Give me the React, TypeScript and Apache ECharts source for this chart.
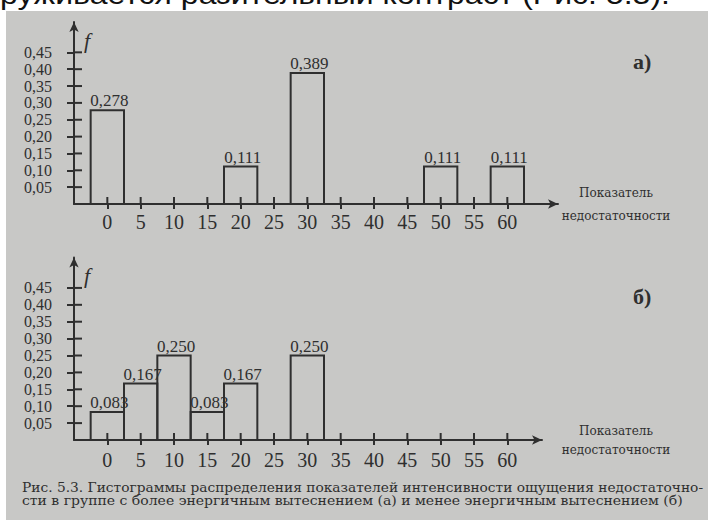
import React, { useEffect, useRef } from "react";
import * as echarts from "echarts";

// ---------- data ----------
const binWidth = 5;
const xA = [0, 20, 30, 50, 60];
const fA = [0.278, 0.111, 0.389, 0.111, 0.111];
const xB = [0, 5, 10, 15, 20, 30];
const fB = [0.083, 0.167, 0.25, 0.083, 0.167, 0.25];
const xTicks = [0, 5, 10, 15, 20, 25, 30, 35, 40, 45, 50, 55, 60];
const yTicks = [0.05, 0.1, 0.15, 0.2, 0.25, 0.3, 0.35, 0.4, 0.45];
const panelLabels = ["а)", "б)"];
const yName = "f";
const xName = "Показатель\nнедостаточности";
const topLine = "руживается разительный контраст (Рис. 5.3).";
const caption1 =
  "Рис. 5.3. Гистограммы распределения показателей интенсивности ощущения недостаточно-";
const caption2 =
  "сти в группе с более энергичным вытеснением (а) и менее энергичным вытеснением (б)";

// ---------- style ----------
const INK = "#2f2f2f";
const BG = "#c8c8c6";
const SERIF = '"Liberation Serif", serif';
const X_MIN = -5;

function measure(text: string, font: string): number {
  const c = document.createElement("canvas").getContext("2d");
  if (!c) return 1;
  c.font = font;
  return c.measureText(text).width || 1;
}

const fmtComma = (v: number, d: number) => v.toFixed(d).replace(".", ",");

function makeAxes(gridIndex: number, xMax: number, labelMargin: number, nameGap: number, nameLH: number) {
  const x = {
    type: "value",
    gridIndex,
    min: X_MIN,
    max: xMax,
    splitLine: { show: false },
    axisLine: {
      show: true,
      onZero: false,
      symbol: ["none", "arrow"],
      symbolSize: [7, 10],
      lineStyle: { color: INK, width: 2 },
    },
    axisTick: { show: true, customValues: xTicks, length: 5, lineStyle: { color: INK, width: 2 } },
    axisLabel: {
      customValues: xTicks,
      formatter: (v: number) => String(v),
      color: INK,
      fontFamily: SERIF,
      fontSize: 20,
      margin: labelMargin,
    },
    name: xName,
    nameLocation: "end",
    nameGap,
    nameTextStyle: {
      color: INK,
      fontFamily: '"DejaVu Serif", serif',
      fontSize: 12,
      lineHeight: nameLH,
      align: "center",
      verticalAlign: "middle",
      padding: [5, 0, 0, 0],
    },
  };
  const y = {
    type: "value",
    gridIndex,
    min: 0,
    max: 0.54,
    splitLine: { show: false },
    axisLine: {
      show: true,
      onZero: false,
      symbol: ["none", "arrow"],
      symbolSize: [7, 10],
      lineStyle: { color: INK, width: 2 },
    },
    axisTick: { show: true, customValues: yTicks, length: 7, lineStyle: { color: INK, width: 2 } },
    axisLabel: {
      customValues: yTicks,
      formatter: (v: number) => fmtComma(v, 2),
      color: INK,
      fontFamily: SERIF,
      fontSize: 16,
      margin: 22,
    },
    name: yName,
    nameLocation: "end",
    nameGap: -18,
    nameTextStyle: {
      color: INK,
      fontFamily: SERIF,
      fontStyle: "italic",
      fontSize: 22,
      align: "left",
      verticalAlign: "middle",
      padding: [0, 0, 0, 10],
    },
  };
  return { x, y };
}

function histSeries(xs: number[], fs: number[], idx: number) {
  return {
    type: "custom",
    xAxisIndex: idx,
    yAxisIndex: idx,
    data: xs.map((x, i) => [x, fs[i]]),
    renderItem: (_params: any, api: any) => {
      const x = api.value(0);
      const f = api.value(1);
      const p0 = api.coord([x - binWidth / 2, f]);
      const p1 = api.coord([x + binWidth / 2, 0]);
      return {
        type: "group",
        children: [
          {
            type: "rect",
            shape: { x: p0[0], y: p0[1], width: p1[0] - p0[0], height: p1[1] - p0[1] },
            style: { fill: "none", stroke: INK, lineWidth: 2 },
          },
          {
            type: "text",
            x: (p0[0] + p1[0]) / 2 + 2,
            y: p0[1] - 1,
            style: {
              text: fmtComma(f, 3),
              font: `17px ${SERIF}`,
              fill: INK,
              align: "center",
              verticalAlign: "bottom",
            },
          },
        ],
      };
    },
  };
}

// inner halves of the crossing tick marks, placed through the axes' scales
// each datum: [x, y, kind] where kind 0 = y-axis tick, 1 = x-axis tick
function innerTicks(idx: number) {
  const data = [
    ...yTicks.map((v) => [X_MIN, v, 0]),
    ...xTicks.map((v) => [v, 0, 1]),
  ];
  return {
    type: "custom",
    xAxisIndex: idx,
    yAxisIndex: idx,
    silent: true,
    z: 3,
    data,
    renderItem: (_params: any, api: any) => {
      const p = api.coord([api.value(0), api.value(1)]);
      const kind = api.value(2);
      const shape =
        kind === 0
          ? { x1: p[0], y1: p[1], x2: p[0] + 8, y2: p[1] }
          : { x1: p[0], y1: p[1], x2: p[0], y2: p[1] - 7 };
      return { type: "line", shape, style: { stroke: INK, lineWidth: 2 } };
    },
  };
}

export default function App() {
  const ref = useRef<HTMLDivElement>(null);
  useEffect(() => {
    document.body.style.margin = "0";
    if (!ref.current) return;
    const chart = echarts.init(ref.current, undefined, { renderer: "svg" });

    const pxPerUnit = 400 / 60;
    const gA = { left: 74, top: 22, width: 484, height: 182 };
    const gB = { left: 74, top: 257.5, width: 468, height: 182.5 };
    const axA = makeAxes(0, X_MIN + gA.width / pxPerUnit, 8, 58, 23);
    const axB = makeAxes(1, X_MIN + gB.width / pxPerUnit, 10, 74, 19);

    const topFont = `27px "Liberation Sans", sans-serif`;
    const capFont = `12px "DejaVu Serif", serif`;
    const topScale = 670 / measure(topLine, topFont);
    const c1Scale = (704 - 22) / measure(caption1, capFont);
    const c2Scale = (683 - 22) / measure(caption2, capFont);

    chart.setOption({
      animation: false,
      backgroundColor: "#ffffff",
      title: [
        {
          text: panelLabels[0],
          left: 628,
          top: 45,
          textStyle: { color: INK, fontFamily: SERIF, fontWeight: "bold", fontSize: 22 },
        },
        {
          text: panelLabels[1],
          left: 628,
          top: 280,
          textStyle: { color: INK, fontFamily: SERIF, fontWeight: "bold", fontSize: 22 },
        },
      ],
      grid: [
        { ...gA, containLabel: false },
        { ...gB, containLabel: false },
      ],
      xAxis: [axA.x, axB.x],
      yAxis: [axA.y, axB.y],
      series: [histSeries(xA, fA, 0), histSeries(xB, fB, 1), innerTicks(0), innerTicks(1)],
      graphic: [
        {
          type: "text",
          z: -2,
          x: 0,
          y: 8,
          scaleX: topScale,
          style: { text: topLine, font: topFont, fill: "#111", verticalAlign: "bottom" },
        },
        {
          type: "rect",
          z: -1,
          shape: { x: 6, y: 11, width: 702, height: 509 },
          style: { fill: BG },
        },
        {
          type: "text",
          z: 1,
          x: 22,
          y: 488,
          scaleX: c1Scale,
          style: { text: caption1, font: capFont, fill: "#2f2f2f", verticalAlign: "middle" },
        },
        {
          type: "text",
          z: 1,
          x: 22,
          y: 501,
          scaleX: c2Scale,
          style: { text: caption2, font: capFont, fill: "#2f2f2f", verticalAlign: "middle" },
        },
      ],
    });
    return () => chart.dispose();
  }, []);
  return <div ref={ref} style={{ width: 708, height: 520 }} />;
}
